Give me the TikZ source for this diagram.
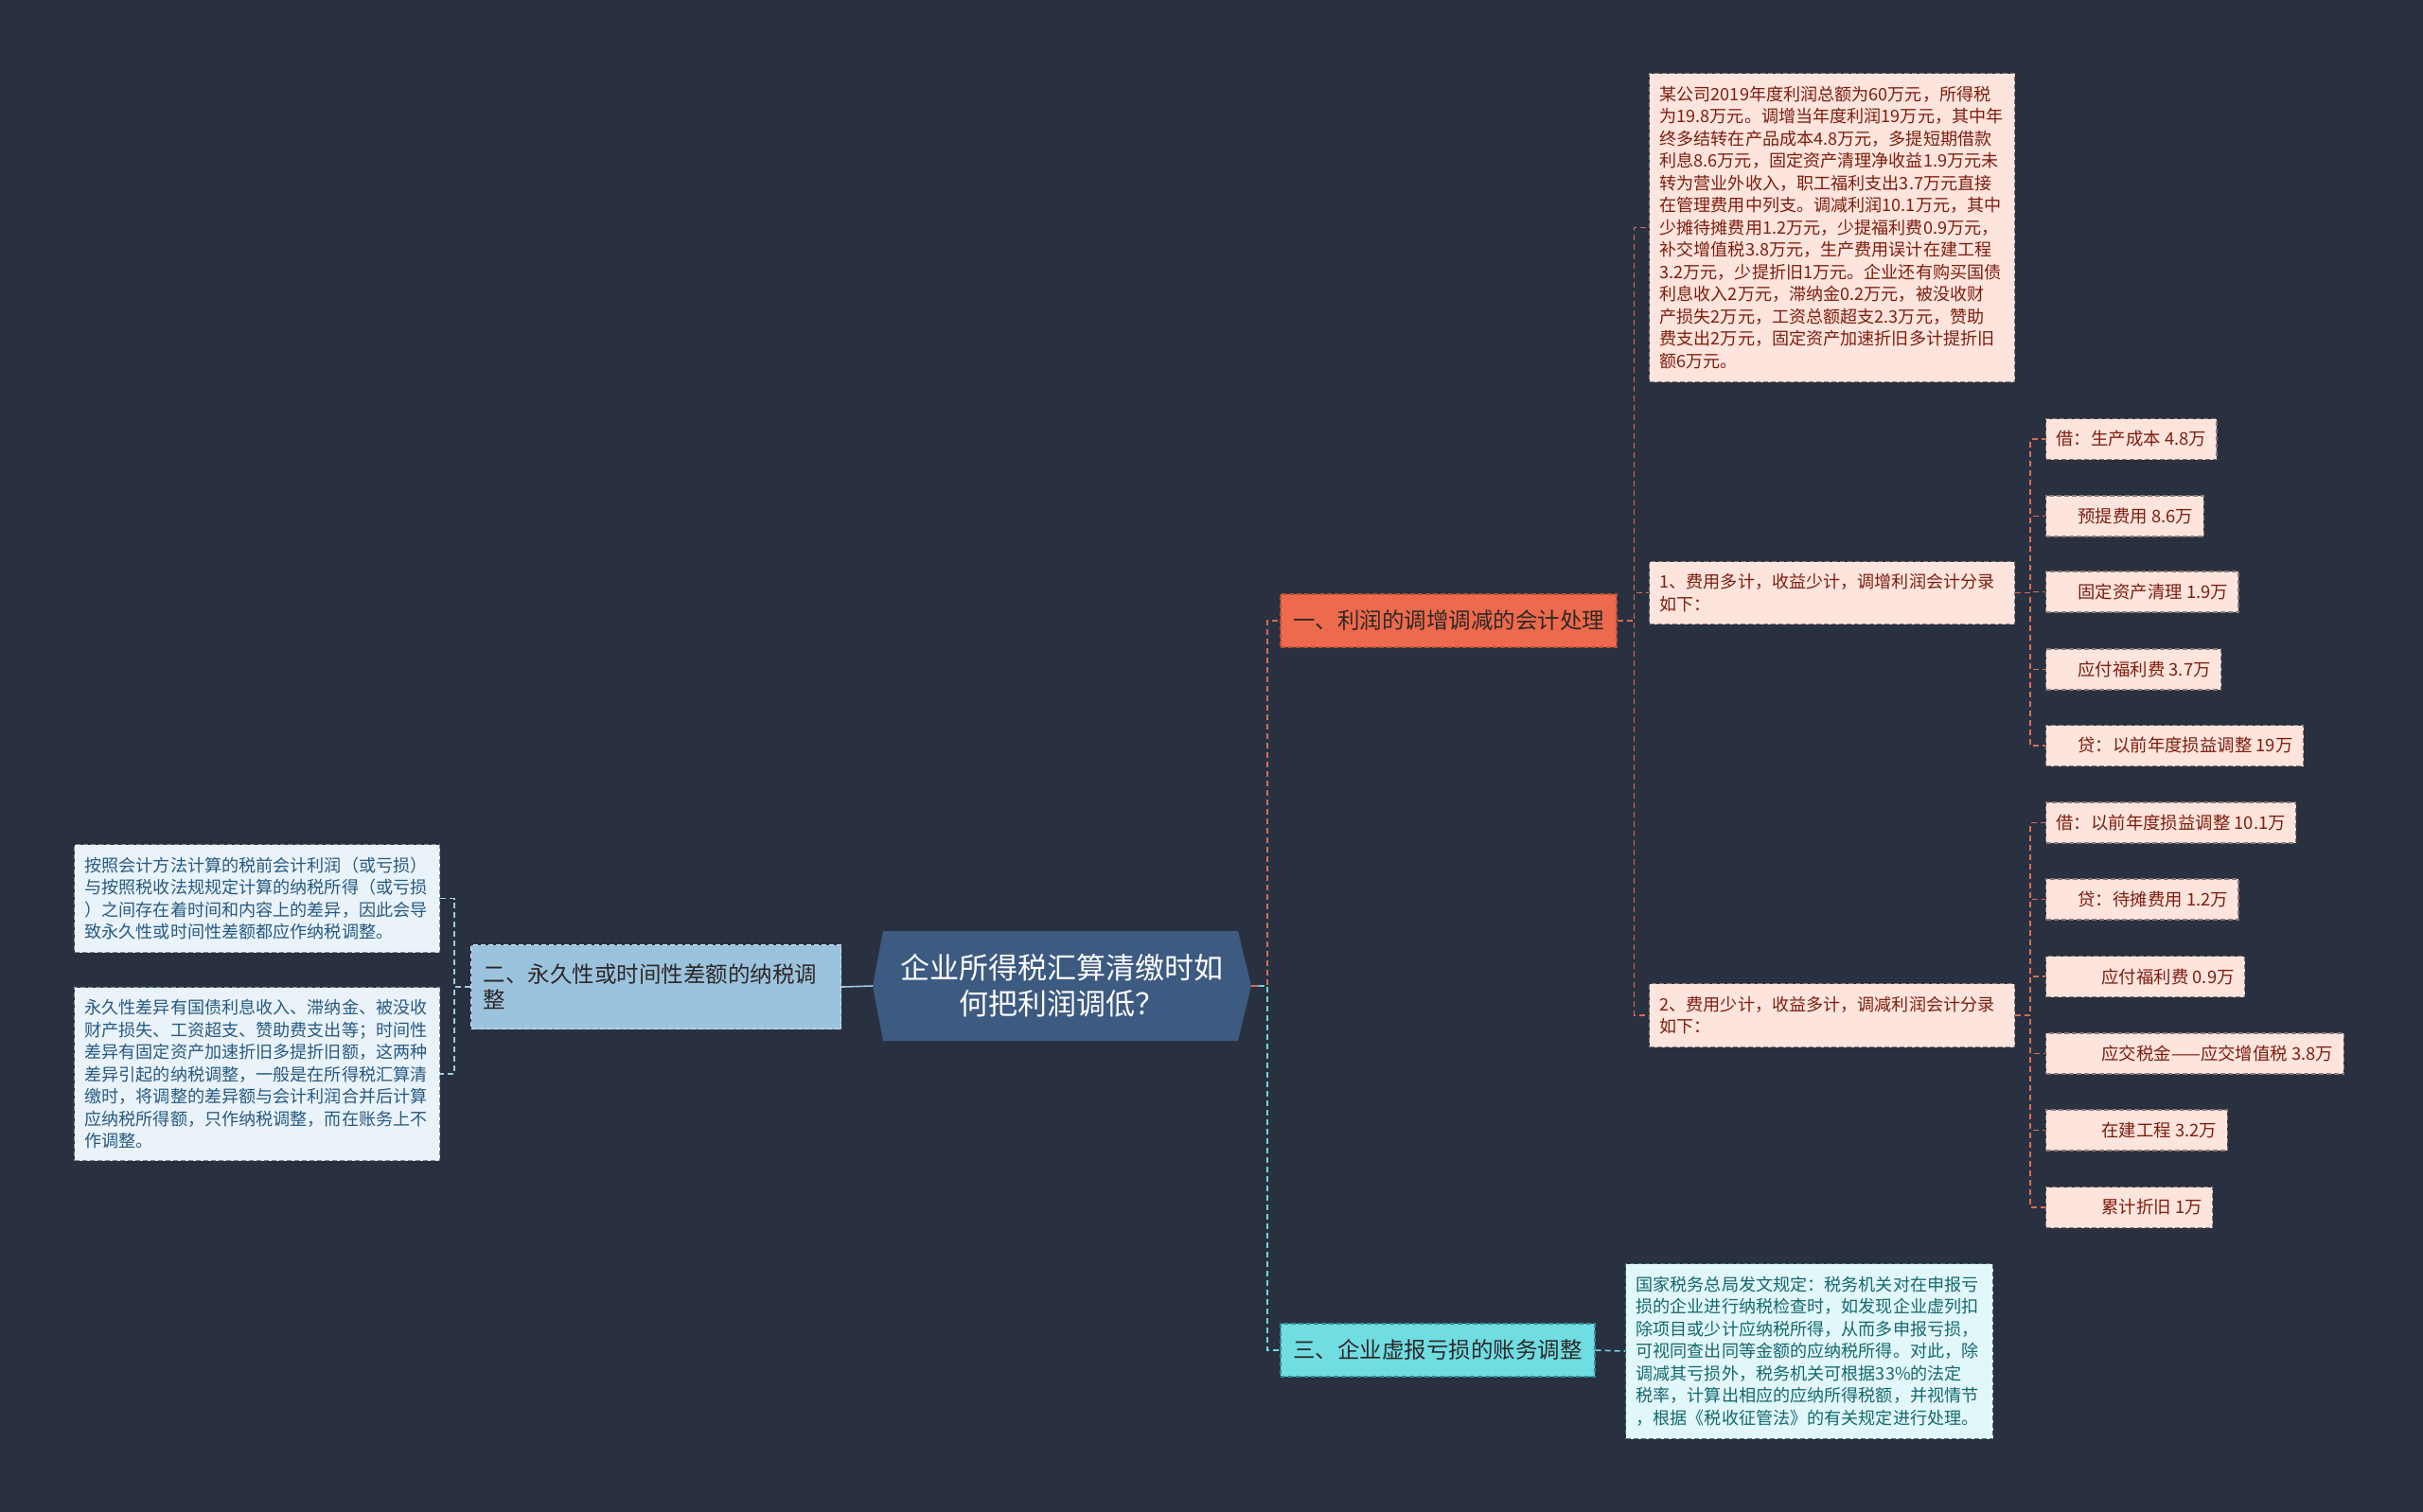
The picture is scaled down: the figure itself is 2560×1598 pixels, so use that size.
\documentclass[tikz,border=0pt]{standalone}
\usepackage{fontspec}
\setmainfont{Noto Sans CJK SC}
\newcommand{\myfs}[2]{\fontsize{#1}{#2}\selectfont}
\definecolor{bg}{RGB}{41,49,64}
\definecolor{rootf}{RGB}{61,90,128}
\definecolor{onef}{RGB}{238,106,76}
\definecolor{oneb}{RGB}{190,80,55}
\definecolor{twof}{RGB}{156,195,222}
\definecolor{twob}{RGB}{205,225,240}
\definecolor{thrf}{RGB}{112,221,227}
\definecolor{thrb}{RGB}{50,140,150}
\definecolor{pinkf}{RGB}{253,228,220}
\definecolor{pinkt}{RGB}{125,30,15}
\definecolor{pinkb}{RGB}{140,120,118}
\definecolor{cyanf}{RGB}{226,247,249}
\definecolor{cyant}{RGB}{20,105,112}
\definecolor{cyanb}{RGB}{70,110,120}
\definecolor{bluef}{RGB}{233,243,249}
\definecolor{bluet}{RGB}{40,90,130}
\definecolor{blueb}{RGB}{120,140,160}
\definecolor{darkt}{RGB}{45,40,40}
\definecolor{orline}{RGB}{214,110,85}
\definecolor{cyline}{RGB}{110,215,225}
\definecolor{blline}{RGB}{160,200,225}
\tikzset{
  bdash/.style={dash pattern=on 5pt off 3pt, line width=1.1pt},
  cdash/.style={dash pattern=on 6pt off 4pt, line width=1.6pt},
  leaf/.style={draw=pinkb, bdash, fill=pinkf, text=pinkt, font=\myfs{18.4}{22}, anchor=west, inner xsep=11pt, inner ysep=0pt, minimum height=43pt},
  pbox/.style={draw=pinkb, bdash, fill=pinkf, text=pinkt, font=\myfs{18.1}{23.5}, anchor=north west, align=left, inner xsep=11pt, inner ysep=0pt, text width=364pt},
  cbox/.style={draw=cyanb, bdash, fill=cyanf, text=cyant, font=\myfs{18.1}{23.5}, anchor=north west, align=left, inner xsep=11pt, inner ysep=0pt, text width=366pt},
  lbox/.style={draw=blueb, bdash, fill=bluef, text=bluet, font=\myfs{18.1}{23.5}, anchor=north west, align=left, inner xsep=11pt, inner ysep=0pt, text width=364pt},
  oline/.style={draw=orline, cdash},
  cline/.style={draw=cyline, cdash},
  bline/.style={draw=blline, cdash},
}
\begin{document}
\begin{tikzpicture}[x=1pt,y=-1pt]
\fill[bg] (0,0) rectangle (2560,1598);
\useasboundingbox (0,0) rectangle (2560,1598);

% root
\fill[rootf] (922,1042) -- (933,984) -- (1308,984) -- (1322,1042) -- (1308,1100) -- (933,1100) -- cycle;
\node[text=white, font=\myfs{31}{38}, align=center] (root) at (1122,1042) {企业所得税汇算清缴时如\\何把利润调低？};
\coordinate (rootL) at (922,1042);
\coordinate (rootR) at (1322,1042);

% main branches
\node[draw=oneb, bdash, fill=onef, text=darkt, font=\myfs{23.5}{27}, minimum width=355pt, minimum height=56pt, inner sep=0pt] (n1) at (1530.5,656) {一、利润的调增调减的会计处理};
\node[draw=twob, bdash, fill=twof, text=darkt, font=\myfs{23.5}{27}, anchor=north west, align=left, text width=365pt, inner xsep=13pt, inner ysep=0pt, minimum height=89pt] (n2) at (497,998) {二、永久性或时间性差额的纳税调\\整};
\node[draw=thrb, bdash, fill=thrf, text=darkt, font=\myfs{23.5}{27}, minimum width=332pt, minimum height=56pt, inner sep=0pt] (n3) at (1519,1427) {三、企业虚报亏损的账务调整};

% branch 1 children
\node[pbox, minimum height=326pt] (a) at (1742,77) {某公司2019年度利润总额为60万元，所得税\\为19.8万元。调增当年度利润19万元，其中年\\终多结转在产品成本4.8万元，多提短期借款\\利息8.6万元，固定资产清理净收益1.9万元未\\转为营业外收入，职工福利支出3.7万元直接\\在管理费用中列支。调减利润10.1万元，其中\\少摊待摊费用1.2万元，少提福利费0.9万元，\\补交增值税3.8万元，生产费用误计在建工程\\3.2万元，少提折旧1万元。企业还有购买国债\\利息收入2万元，滞纳金0.2万元，被没收财\\产损失2万元，工资总额超支2.3万元，赞助\\费支出2万元，固定资产加速折旧多计提折旧\\额6万元。};
\node[pbox, minimum height=66pt] (b) at (1742,593) {1、费用多计，收益少计，调增利润会计分录\\如下：};
\node[pbox, minimum height=67pt] (c) at (1742,1039) {2、费用少计，收益多计，调减利润会计分录\\如下：};

% leaves of b
\node[leaf] (b1) at (2161,464) {借：生产成本 4.8万};
\node[leaf] (b2) at (2161,545.5) {\hspace{23pt}预提费用 8.6万};
\node[leaf] (b3) at (2161,625.5) {\hspace{23pt}固定资产清理 1.9万};
\node[leaf] (b4) at (2161,707.5) {\hspace{23pt}应付福利费 3.7万};
\node[leaf] (b5) at (2161,788) {\hspace{23pt}贷：以前年度损益调整 19万};
% leaves of c
\node[leaf] (c1) at (2161,869.5) {借：以前年度损益调整 10.1万};
\node[leaf] (c2) at (2161,950.5) {\hspace{23pt}贷：待摊费用 1.2万};
\node[leaf] (c3) at (2161,1032) {\hspace{48pt}应付福利费 0.9万};
\node[leaf] (c4) at (2161,1113.5) {\hspace{48pt}应交税金——应交增值税 3.8万};
\node[leaf] (c5) at (2161,1194.5) {\hspace{48pt}在建工程 3.2万};
\node[leaf] (c6) at (2161,1276) {\hspace{48pt}累计折旧 1万};

% branch 3 child
\node[cbox, minimum height=185pt] (d) at (1717,1335) {国家税务总局发文规定：税务机关对在申报亏\\损的企业进行纳税检查时，如发现企业虚列扣\\除项目或少计应纳税所得，从而多申报亏损，\\可视同查出同等金额的应纳税所得。对此，除\\调减其亏损外，税务机关可根据33\%的法定\\税率，计算出相应的应纳所得税额，并视情节\\，根据《税收征管法》的有关规定进行处理。};

% branch 2 children
\node[lbox, minimum height=114pt] (e) at (78,892) {按照会计方法计算的税前会计利润（或亏损）\\与按照税收法规规定计算的纳税所得（或亏损\\）之间存在着时间和内容上的差异，因此会导\\致永久性或时间性差额都应作纳税调整。};
\node[lbox, minimum height=183pt] (f) at (78,1043) {永久性差异有国债利息收入、滞纳金、被没收\\财产损失、工资超支、赞助费支出等；时间性\\差异有固定资产加速折旧多提折旧额，这两种\\差异引起的纳税调整，一般是在所得税汇算清\\缴时，将调整的差异额与会计利润合并后计算\\应纳税所得额，只作纳税调整，而在账务上不\\作调整。};

% connectors: root to branches
\draw[draw=orline, line width=1.6pt] (rootR) -- ++(8,0);
\draw[oline] ([xshift=8pt]rootR) -- ++(9,0) |- (n1.west);
\draw[cline] ([xshift=8pt]rootR) -- ++(9,0) |- (n3.west);
\draw[draw=blline, line width=1.6pt] (rootL) -- (n2.east);

% branch 1
\draw[oline] (n1.east) -- ++(18,0) |- (a.west);
\draw[oline] (n1.east) -- ++(18,0) |- (b.west);
\draw[oline] (n1.east) -- ++(18,0) |- (c.west);
% b leaves
\foreach \k in {b1,b2,b3,b4,b5} { \draw[oline] (b.east) -- ++(16,0) |- (\k.west); }
\foreach \k in {c1,c2,c3,c4,c5,c6} { \draw[oline] (c.east) -- ++(16,0) |- (\k.west); }

% branch 3
\draw[cline] (n3.east) -- (d.west);

% branch 2
\draw[bline] (n2.west) -- ++(-17,0) |- (e.east);
\draw[bline] (n2.west) -- ++(-17,0) |- (f.east);
\end{tikzpicture}
\end{document}
